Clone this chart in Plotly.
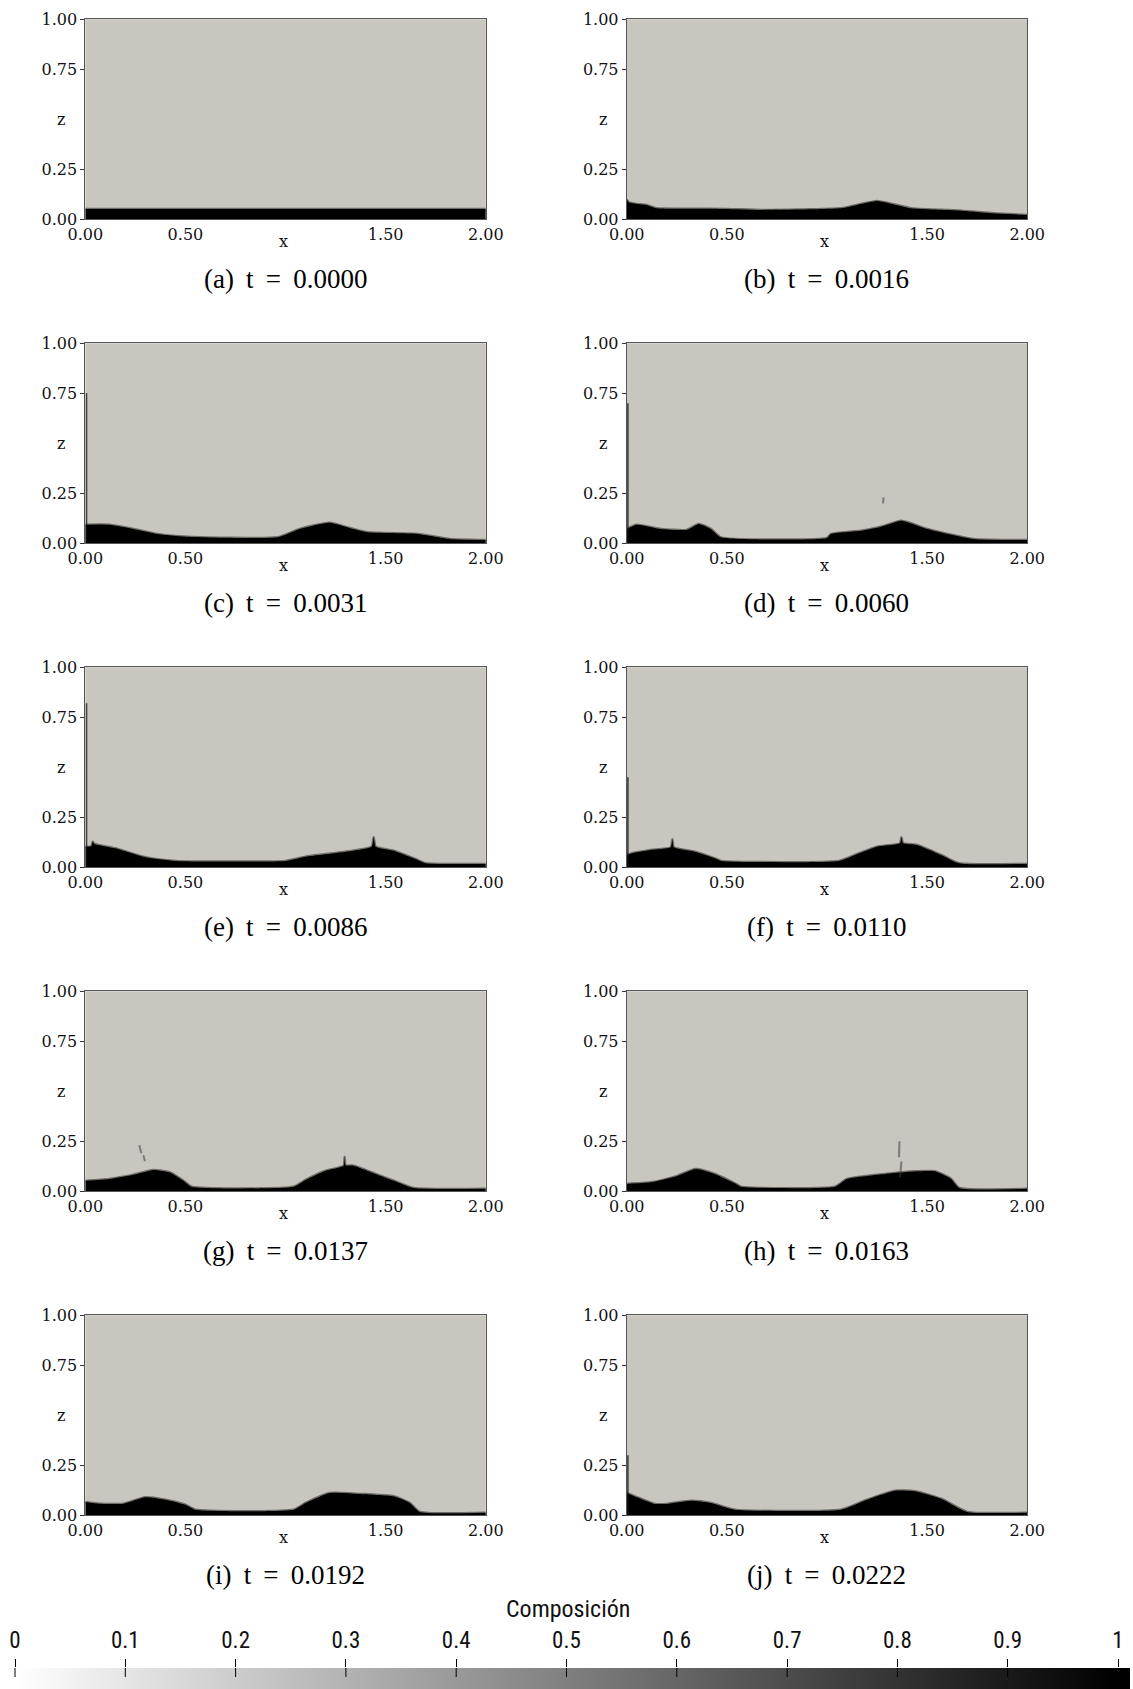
import plotly.graph_objects as go

# ---- simulation snapshots: height of the dense (black) layer along x ----
times = ["0.0000", "0.0016", "0.0031", "0.0060", "0.0086",
         "0.0110", "0.0137", "0.0163", "0.0192", "0.0222"]
letters = ["a", "b", "c", "d", "e", "f", "g", "h", "i", "j"]

x_a = [0.0, 2.0]
h_a = [0.052, 0.052]

x_b = [0, 0.01, 0.05, 0.1, 0.15, 0.3, 0.5, 0.67, 0.92, 1.08, 1.17, 1.25, 1.3, 1.42, 1.5, 1.67, 1.83, 2.0]
h_b = [0.10, 0.085, 0.077, 0.072, 0.055, 0.053, 0.052, 0.047, 0.05, 0.057, 0.077, 0.092, 0.083, 0.055, 0.05, 0.043, 0.03, 0.022]

x_c = [0, 0.12, 0.24, 0.36, 0.51, 0.96, 1.07, 1.22, 1.32, 1.41, 1.66, 1.82, 2.0]
h_c = [0.093, 0.093, 0.072, 0.047, 0.033, 0.03, 0.072, 0.103, 0.077, 0.055, 0.047, 0.022, 0.017]

x_d = [0, 0.05, 0.17, 0.3, 0.36, 0.42, 0.47, 1.0, 1.02, 1.17, 1.27, 1.37, 1.43, 1.5, 1.73, 2.0]
h_d = [0.072, 0.093, 0.072, 0.067, 0.097, 0.072, 0.03, 0.027, 0.047, 0.063, 0.083, 0.113, 0.097, 0.072, 0.022, 0.017]

x_e = [0, 0.03, 0.037, 0.045, 0.15, 0.3, 0.45, 1.0, 1.1, 1.3, 1.43, 1.44, 1.45, 1.54, 1.64, 1.7, 2.0]
h_e = [0.103, 0.105, 0.128, 0.117, 0.095, 0.05, 0.032, 0.032, 0.053, 0.078, 0.103, 0.15, 0.103, 0.083, 0.045, 0.02, 0.017]

x_f = [0, 0.037, 0.12, 0.22, 0.228, 0.235, 0.34, 0.44, 0.47, 1.06, 1.14, 1.25, 1.365, 1.372, 1.38, 1.45, 1.57, 1.66, 2.0]
h_f = [0.062, 0.073, 0.087, 0.1, 0.14, 0.1, 0.078, 0.045, 0.032, 0.032, 0.062, 0.103, 0.12, 0.15, 0.12, 0.112, 0.062, 0.02, 0.017]

x_g = [0, 0.12, 0.24, 0.34, 0.42, 0.49, 0.53, 1.04, 1.1, 1.2, 1.29, 1.295, 1.3, 1.34, 1.45, 1.54, 1.64, 2.0]
h_g = [0.053, 0.062, 0.083, 0.107, 0.095, 0.053, 0.023, 0.023, 0.057, 0.103, 0.128, 0.173, 0.13, 0.128, 0.087, 0.053, 0.017, 0.013]

x_h = [0, 0.12, 0.24, 0.345, 0.44, 0.54, 0.57, 1.04, 1.1, 1.29, 1.45, 1.54, 1.62, 1.66, 2.0]
h_h = [0.037, 0.045, 0.073, 0.112, 0.087, 0.04, 0.023, 0.023, 0.062, 0.087, 0.1, 0.1, 0.062, 0.017, 0.013]

x_i = [0, 0.07, 0.19, 0.3, 0.4, 0.5, 0.55, 1.04, 1.1, 1.22, 1.37, 1.54, 1.62, 1.67, 2.0]
h_i = [0.067, 0.058, 0.058, 0.09, 0.078, 0.053, 0.028, 0.028, 0.062, 0.112, 0.107, 0.095, 0.062, 0.017, 0.013]

x_j = [0, 0.07, 0.14, 0.2, 0.32, 0.42, 0.54, 1.07, 1.2, 1.34, 1.44, 1.57, 1.7, 2.0]
h_j = [0.112, 0.083, 0.057, 0.057, 0.073, 0.062, 0.028, 0.028, 0.078, 0.123, 0.12, 0.083, 0.017, 0.013]

profiles_x = [x_a, x_b, x_c, x_d, x_e, x_f, x_g, x_h, x_i, x_j]
profiles_h = [h_a, h_b, h_c, h_d, h_e, h_f, h_g, h_h, h_i, h_j]

# thin film climbing the left wall (height reached), per snapshot
wall_height = [0, 0, 0.75, 0.70, 0.82, 0.45, 0, 0, 0, 0.30]

# detached filaments: (panel index, x0, z0, x1, z1)
wisps = [
    (3, 1.280, 0.200, 1.283, 0.230),
    (6, 0.270, 0.230, 0.280, 0.190),
    (6, 0.290, 0.180, 0.298, 0.150),
    (7, 1.360, 0.170, 1.362, 0.250),
    (7, 1.365, 0.070, 1.372, 0.150),
]

# composition scale
cbar_ticks = [0, 0.1, 0.2, 0.3, 0.4, 0.5, 0.6, 0.7, 0.8, 0.9, 1]
cbar_text = ["0", "0.1", "0.2", "0.3", "0.4", "0.5", "0.6", "0.7", "0.8", "0.9", "1"]

# ---- layout geometry (pixels) ----
W, H = 1133, 1689
col_left = [85.3, 626.7]
panel_w, panel_h = 400.5, 200.0
row_top = [19.3 + 324.0 * k for k in range(5)]

FLUID = "#c8c6be"
SERIF = "DejaVu Serif"
CAPTION_FONT = "Liberation Serif"
NARROW = "Liberation Sans Narrow, Roboto Condensed, Liberation Sans, sans-serif"
NB, THIN = "\u00a0", "\u2009"

fig = go.Figure()
layout = dict(
    width=W, height=H, autosize=False,
    margin=dict(l=0, r=0, t=0, b=0, pad=0, autoexpand=False),
    paper_bgcolor="white",
    plot_bgcolor=FLUID,
    showlegend=False,
)
annotations = []

for k in range(10):
    row, col = divmod(k, 2)
    n = k + 1
    xs = "x" if n == 1 else f"x{n}"
    ys = "y" if n == 1 else f"y{n}"
    xkey = "xaxis" if n == 1 else f"xaxis{n}"
    ykey = "yaxis" if n == 1 else f"yaxis{n}"

    x0 = col_left[col] / W
    x1 = (col_left[col] + panel_w) / W
    y1 = 1 - row_top[row] / H
    y0 = 1 - (row_top[row] + panel_h) / H

    layout[xkey] = dict(
        domain=[x0, x1], range=[0, 2], anchor=ys,
        tickvals=[0, 0.5, 1.5, 2.0], ticktext=["0.00", "0.50", "1.50", "2.00"],
        ticks="", showgrid=False, zeroline=False,
        showline=True, mirror=True, linecolor="#555555", linewidth=1,
        tickfont=dict(family=SERIF, size=16, color="#111111"),
        fixedrange=True,
    )
    layout[ykey] = dict(
        domain=[y0, y1], range=[0, 1], anchor=xs,
        tickvals=[0, 0.25, 0.75, 1.0], ticktext=["0.00", "0.25", "0.75", "1.00"],
        ticks="outside", ticklen=4, tickcolor="#333333",
        showgrid=False, zeroline=False,
        showline=True, mirror=True, linecolor="#555555", linewidth=1,
        tickfont=dict(family=SERIF, size=16, color="#111111"),
        fixedrange=True,
    )

    # dense layer (soft outline mimics the smeared interface)
    fig.add_trace(go.Scatter(
        x=profiles_x[k], y=profiles_h[k], xaxis=xs, yaxis=ys,
        mode="lines", fill="tozeroy", fillcolor="#000000",
        line=dict(color="rgba(0,0,0,0.45)", width=2.5, shape="spline", smoothing=0.5),
        hoverinfo="skip",
    ))

    # film on the left wall
    if wall_height[k] > 0:
        fig.add_trace(go.Scatter(
            x=[0.006, 0.006], y=[0, wall_height[k]], xaxis=xs, yaxis=ys,
            mode="lines", line=dict(color="rgba(20,20,20,0.75)", width=1.6),
            hoverinfo="skip",
        ))

    # axis titles and caption
    annotations.append(dict(
        text="z", xref=f"{xs} domain", yref=f"{ys} domain",
        x=-0.06, y=0.5, xanchor="center", yanchor="middle", showarrow=False,
        font=dict(family=SERIF, size=16, color="#111111"),
    ))
    annotations.append(dict(
        text="x", xref=f"{xs} domain", yref=f"{ys} domain",
        x=0.495, y=-0.11, xanchor="center", yanchor="middle", showarrow=False,
        font=dict(family=SERIF, size=16, color="#111111"),
    ))
    annotations.append(dict(
        text=f"({letters[k]}){NB}{THIN}t{NB}{THIN}={NB}{THIN}{times[k]}",
        xref=f"{xs} domain", yref=f"{ys} domain",
        x=0.5, y=-0.3, xanchor="center", yanchor="middle", showarrow=False,
        font=dict(family=CAPTION_FONT, size=27, color="#000000"),
    ))

for (k, wx0, wz0, wx1, wz1) in wisps:
    n = k + 1
    fig.add_trace(go.Scatter(
        x=[wx0, wx1], y=[wz0, wz1],
        xaxis=f"x{n}", yaxis=f"y{n}",
        mode="lines", line=dict(color="rgba(60,60,60,0.55)", width=2),
        hoverinfo="skip",
    ))

# horizontal colour bar for the composition scale, drawn on its own axes
cb_left, cb_right = 8.0, 1130.0          # extent of the bar (px)
v0_px, v1_px = 15.0, 1118.0              # where 0 and 1 fall (px)
ppu = v1_px - v0_px
bar_h = 21.0
fig.add_trace(go.Heatmap(
    x=cbar_ticks, y=[0], z=[cbar_ticks],
    zmin=0, zmax=1, zsmooth="best",
    colorscale=[[0, "#ffffff"], [1, "#000000"]],
    showscale=False, hoverinfo="skip",
    xaxis="x11", yaxis="y11",
))
# tick marks continue a little way into the bar
tick_x, tick_y = [], []
for v in cbar_ticks:
    tick_x += [v, v, None]
    tick_y += [0.5, 0.5 - 9.0 / bar_h, None]
fig.add_trace(go.Scatter(
    x=tick_x, y=tick_y, xaxis="x11", yaxis="y11", mode="lines",
    line=dict(color="#000000", width=1), hoverinfo="skip",
))
layout["xaxis11"] = dict(
    domain=[cb_left / W, cb_right / W],
    range=[-(v0_px - cb_left) / ppu, 1 + (cb_right - v1_px) / ppu],
    anchor="y11", side="top",
    tickvals=cbar_ticks, ticktext=cbar_text,
    ticks="outside", ticklen=8, tickcolor="#000000", tickwidth=1,
    ticklabelstandoff=2,
    tickfont=dict(family=NARROW, size=23, color="#111111"),
    showgrid=False, zeroline=False, showline=False, fixedrange=True,
)
layout["yaxis11"] = dict(
    domain=[0, bar_h / H], range=[-0.5, 0.5], anchor="x11",
    showticklabels=False, ticks="", showgrid=False, zeroline=False,
    showline=False, fixedrange=True,
)
annotations.append(dict(
    text="Composición", xref="paper", yref="paper",
    x=568 / W, y=1 - 1609 / H, xanchor="center", yanchor="middle",
    showarrow=False,
    font=dict(family=NARROW, size=24, color="#111111"),
))

layout["annotations"] = annotations
fig.update_layout(**layout)
fig.write_html("out.html")
